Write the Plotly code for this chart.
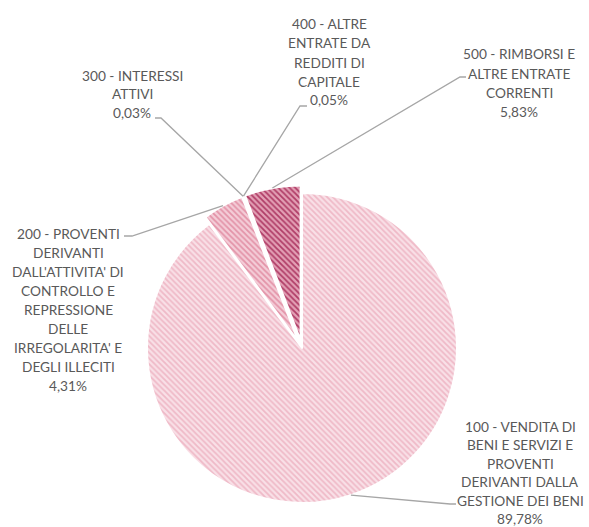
import math
import plotly.graph_objects as go

# ---------------- data ----------------
codes = ["100", "200", "300", "400", "500"]
label_lines = [
    ["100 - VENDITA DI", "BENI E SERVIZI E", "PROVENTI", "DERIVANTI DALLA", "GESTIONE DEI BENI"],
    ["200 - PROVENTI", "DERIVANTI", "DALL'ATTIVITA' DI", "CONTROLLO E", "REPRESSIONE",
     "DELLE", "IRREGOLARITA' E", "DEGLI ILLECITI"],
    ["300 - INTERESSI", "ATTIVI"],
    ["400 - ALTRE", "ENTRATE DA", "REDDITI DI", "CAPITALE"],
    ["500 - RIMBORSI E", "ALTRE ENTRATE", "CORRENTI"],
]
shares = [89.78, 4.31, 0.03, 0.05, 5.83]
pct_text = ["89,78%", "4,31%", "0,03%", "0,05%", "5,83%"]

# ---------------- styles / layout ----------------
W, H = 589, 527
CX, CY, R = 302, 348, 155          # pie centre and radius in px
pulls = [0, 0.05, 0.05, 0.05, 0.05]
fg = ["#efb9c7", "#e393a8", "#d77a96", "#c8607f", "#b03d67"]
bg = ["#f9e0e7", "#f4cdd8", "#f0c0ce", "#ebb0c1", "#e3a0b5"]
TEXT_COLOR = "#595959"
LINE_COLOR = "#a6a6a6"
FONT = "Lato"
FS = 13.7

# label blocks: centre x, first-line y, line step (px)
blocks = [
    (520, 426, 18.5),
    (68, 233, 19.0),
    (132, 75, 19.0),
    (329, 24, 19.0),
    (519, 54, 19.0),
]
# leader elbows: (elbow point, end near text) in px
leaders = [
    ((450, 504), (456, 504)),
    ((132, 236), (124, 236)),
    ((161, 118), (155, 118)),
    ((300, 106), (307, 106)),
    ((460, 77), (466, 77)),
]

def px2paper(x, y):
    return x / W, 1 - y / H

maxp = max(pulls)
half = R * (1 + maxp)
dx0, dy1 = px2paper(CX - half, CY - half)
dx1, dy0 = px2paper(CX + half, CY + half)

fig = go.Figure(go.Pie(
    labels=codes,
    values=shares,
    sort=False,
    direction="clockwise",
    rotation=0,
    pull=pulls,
    textinfo="none",
    hoverinfo="label+percent",
    showlegend=False,
    domain=dict(x=[dx0, dx1], y=[dy0, dy1]),
    marker=dict(
        colors=bg,
        line=dict(color="white", width=2),
        pattern=dict(shape="\\", size=4, solidity=0.45,
                     fgcolor=fg, bgcolor=bg, fillmode="replace"),
    ),
))

annotations = []
shapes = []
total = sum(shares)
cum = 0.0
for i, v in enumerate(shares):
    mid = (cum + v / 2) / total * 2 * math.pi
    cum += v
    rr = R * (1 + pulls[i])
    sx = CX + rr * math.sin(mid)
    sy = CY - rr * math.cos(mid)
    (ex, ey), (tx, ty) = leaders[i]
    x1, y1 = px2paper(sx, sy)
    x2, y2 = px2paper(ex, ey)
    x3, y3 = px2paper(tx, ty)
    shapes.append(dict(type="path", xref="paper", yref="paper",
                       path=f"M {x1} {y1} L {x2} {y2} L {x3} {y3}",
                       line=dict(color=LINE_COLOR, width=1.3)))
    bx, by, step = blocks[i]
    lines = label_lines[i] + [pct_text[i]]
    for k, t in enumerate(lines):
        ax, ay = px2paper(bx, by + k * step)
        annotations.append(dict(text=t, x=ax, y=ay, xref="paper", yref="paper",
                                xanchor="center", yanchor="middle", showarrow=False,
                                font=dict(family=FONT, size=FS, color=TEXT_COLOR)))

fig.update_layout(
    width=W, height=H,
    margin=dict(l=0, r=0, t=0, b=0),
    paper_bgcolor="white",
    plot_bgcolor="white",
    annotations=annotations,
    shapes=shapes,
)

fig.write_html("out.html", config={"displayModeBar": False},
               post_script="document.body.style.margin='0px';")
